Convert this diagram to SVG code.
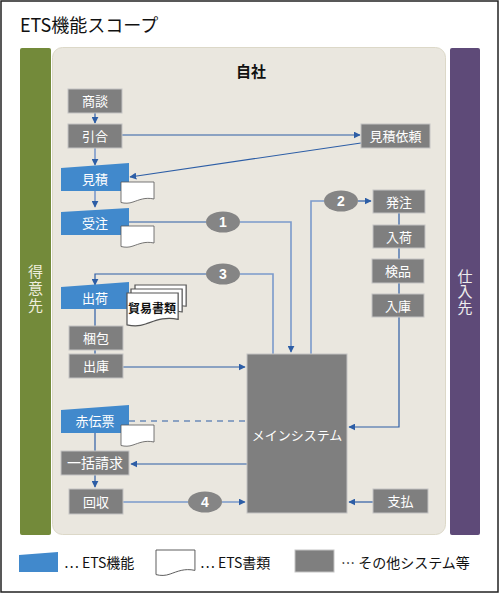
<svg xmlns="http://www.w3.org/2000/svg" width="500" height="594" viewBox="0 0 500 594">
<defs>
<style>
text{font-family:"Noto Sans CJK JP","Liberation Sans",sans-serif}
.g rect{fill:#7f7f7f;stroke:#c4c4c4;stroke-width:1}
.g text,.b text{fill:#fff;font-size:13px;text-anchor:middle}
.b polygon{fill:#4189cc}
.doc{fill:#fff;stroke:#555;stroke-width:0.8}
.ln{fill:none;stroke:#2d5ea6;stroke-width:1.2}
.lt{fill:none;stroke:#7b9acb;stroke-width:1.6}
.cir ellipse{fill:#858585}
.cir text{fill:#fff;font-size:14px;font-weight:bold;text-anchor:middle;font-family:"Liberation Sans",sans-serif}
.lg{font-size:14px;fill:#111}
.vt{writing-mode:vertical-rl;text-anchor:middle;font-size:15px;letter-spacing:2px}
</style>
<marker id="ar" viewBox="0 0 10 10" refX="9" refY="5" markerWidth="7" markerHeight="7" markerUnits="userSpaceOnUse" orient="auto"><path d="M0,0 L10,5 L0,10 Z" fill="#2d5ea6"/></marker>
<path id="dp" d="M0,0 H33 V17 C24,15 18,18 12,20 C8,21.5 4,21.5 0,20.5 Z"/>
</defs>
<rect x="1" y="1" width="497" height="591" fill="#fff" stroke="#222" stroke-width="1.5"/>
<text x="20" y="32" font-size="18" fill="#111">ETS機能スコープ</text>

<g id="customer">
<rect x="20" y="48" width="31" height="487" rx="2" fill="#738a3a"/>
<text class="vt" x="35.5" y="289" fill="#eeeede">得意先</text>
</g>
<g id="company">
<rect x="52.5" y="47.5" width="393" height="487" rx="10" fill="#eae7df" stroke="#dcd8c8"/>
<text x="251" y="77" font-size="15" font-weight="bold" fill="#111" text-anchor="middle">自社</text>
</g>
<g id="supplier">
<rect x="450" y="48" width="30" height="487" rx="2" fill="#5e4a78"/>
<text class="vt" x="465" y="292" fill="#eee" style="letter-spacing:0.5px">仕入先</text>
</g>

<g id="connectors">
<path class="ln" d="M95,113 V123" marker-end="url(#ar)"/>
<path class="lt" d="M95,148 V165" stroke-width="1" marker-end="url(#ar)"/>
<path class="lt" d="M95,191 V207" marker-end="url(#ar)"/>
<path class="ln" d="M122,135 H360" marker-end="url(#ar)"/>
<path class="ln" d="M361,143 L130,177" marker-end="url(#ar)"/>
<path class="ln" d="M129,222 H206"/>
<path class="lt" d="M240,222 H291 V352" marker-end="url(#ar)"/>
<path class="lt" d="M311,354 V201 H324"/>
<path class="ln" d="M358,201 H371" marker-end="url(#ar)"/>
<path class="lt" d="M273,354 V274 H240"/>
<path class="ln" d="M206,274 H95 V285" marker-end="url(#ar)"/>
<path class="ln" d="M95,309 V326 M95,350 V354"/>
<path class="ln" d="M123,367 H245" marker-end="url(#ar)"/>
<path class="ln" d="M399,213 V225 M399,248 V259 M399,283 V294 M399,317 V427 H349" marker-end="url(#ar)"/>
<path class="ln" d="M129,421 H247" stroke-dasharray="6,5"/>
<path class="ln" d="M247,464 H131" marker-end="url(#ar)"/>
<path class="ln" d="M95,433 V451"/>
<path class="ln" d="M95,475 V487" marker-end="url(#ar)"/>
<path class="lt" d="M123,502 H188 M222,502 H245" marker-end="url(#ar)"/>
<path class="ln" d="M373,502 H349" marker-end="url(#ar)"/>
</g>

<g id="n-shodan" class="g"><rect x="68" y="89" width="54" height="24"/><text x="95" y="106">商談</text></g>
<g id="n-hikiai" class="g"><rect x="68" y="124" width="54" height="24"/><text x="95" y="141">引合</text></g>
<g id="n-mitsumori" class="b"><polygon points="61,168 129,163 129,191 61,191"/><text x="95" y="184">見積</text></g>
<g id="d-mitsumori"><use href="#dp" class="doc" x="121" y="182"/></g>
<g id="n-juchu" class="b"><polygon points="61,212 129,208 129,235 61,235"/><text x="95" y="228">受注</text></g>
<g id="d-juchu"><use href="#dp" class="doc" x="121" y="226"/></g>
<g id="n-shukka" class="b"><polygon points="61,287 129,282 129,309 61,309"/><text x="95" y="303">出荷</text></g>
<g id="d-boeki">
<use href="#dp" class="doc" transform="translate(135 285) scale(1.55 1.25)"/>
<use href="#dp" class="doc" transform="translate(131 289) scale(1.55 1.35)"/>
<use href="#dp" class="doc" transform="translate(127 293) scale(1.55 1.55)"/>
<text x="152" y="313" font-size="12" font-weight="bold" fill="#111" text-anchor="middle">貿易書類</text>
</g>
<g id="n-konpo" class="g"><rect x="69" y="326" width="54" height="24"/><text x="96" y="343">梱包</text></g>
<g id="n-shukko" class="g"><rect x="69" y="354" width="54" height="24"/><text x="96" y="371">出庫</text></g>
<g id="n-akadenpyo" class="b"><polygon points="61,410 129,405 129,433 61,433"/><text x="95" y="426">赤伝票</text></g>
<g id="d-akadenpyo"><use href="#dp" class="doc" x="121" y="425"/></g>
<g id="n-ikkatsu" class="g"><rect x="61" y="451" width="68" height="24"/><text x="95" y="468" style="font-size:14px">一括請求</text></g>
<g id="n-kaishu" class="g"><rect x="69" y="489" width="54" height="25"/><text x="96" y="507">回収</text></g>
<g id="n-mitsumori-irai" class="g"><rect x="361" y="124" width="69" height="24"/><text x="395.5" y="141">見積依頼</text></g>
<g id="n-hachu" class="g"><rect x="373" y="190" width="52" height="23"/><text x="399" y="207">発注</text></g>
<g id="n-nyuka" class="g"><rect x="373" y="225" width="52" height="23"/><text x="399" y="242">入荷</text></g>
<g id="n-kenpin" class="g"><rect x="372" y="259" width="52" height="24"/><text x="398" y="276">検品</text></g>
<g id="n-nyuko" class="g"><rect x="372" y="294" width="52" height="23"/><text x="398" y="311">入庫</text></g>
<g id="n-shiharai" class="g"><rect x="373" y="489" width="55" height="24"/><text x="400.5" y="506">支払</text></g>
<g id="n-main" class="g"><rect x="247" y="354" width="100" height="159"/><text x="297" y="440">メインシステム</text></g>

<g id="c1" class="cir"><ellipse cx="223" cy="222" rx="17" ry="10.5"/><text x="223" y="227">1</text></g>
<g id="c2" class="cir"><ellipse cx="341" cy="201" rx="17" ry="10.5"/><text x="341" y="206">2</text></g>
<g id="c3" class="cir"><ellipse cx="223" cy="274" rx="17" ry="10.5"/><text x="223" y="279">3</text></g>
<g id="c4" class="cir"><ellipse cx="205" cy="502" rx="17" ry="10.5"/><text x="205" y="507">4</text></g>

<g id="legend">
<polygon points="19,555 58,552 58,572 19,572" fill="#4189cc"/>
<text class="lg" x="64" y="568">… ETS機能</text>
<use href="#dp" class="doc" transform="translate(156 550) scale(1.18 1.2)"/>
<text class="lg" x="200" y="568">… ETS書類</text>
<rect x="295" y="550" width="39" height="22" fill="#7f7f7f" stroke="#c4c4c4"/>
<text class="lg" x="341" y="568">… その他システム等</text>
</g>
</svg>
